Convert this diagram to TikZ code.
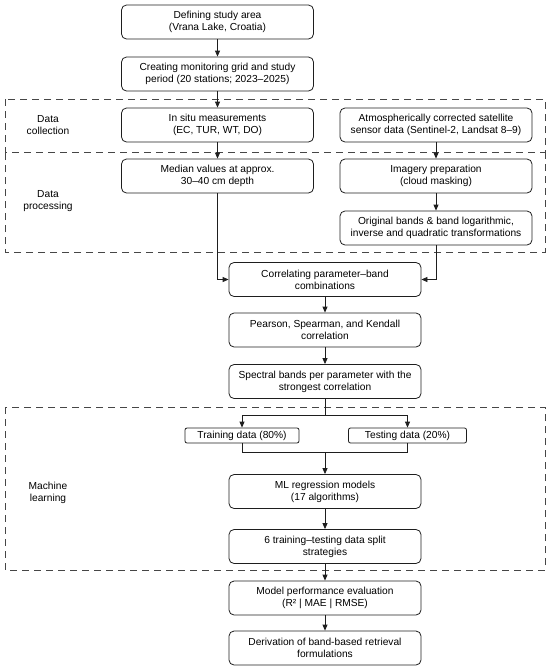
\documentclass[tikz,border=0pt]{standalone}
\usepackage{fontspec}
\setmainfont{Liberation Sans}
\definecolor{flowline}{RGB}{30,30,30}
\definecolor{groupline}{RGB}{70,70,70}
\usetikzlibrary{arrows.meta,positioning}

\begin{document}
\begin{tikzpicture}[x=1pt,y=-1pt,font=\fontsize{10.2}{12}\selectfont,
  box/.style={draw=flowline,line width=0.8pt,rounded corners=5pt,minimum width=192pt,minimum height=34pt,align=center,inner sep=1pt},
  smallbox/.style={draw=flowline,line width=0.8pt,rounded corners=2pt,minimum height=15pt,inner sep=1pt},
  arr/.style={-{Triangle[length=6pt,width=5pt]},line width=0.8pt,flowline},
  link/.style={line width=0.8pt,flowline},
  group/.style={draw=groupline,line width=0.9pt,dash pattern=on 7pt off 5pt},
  grouplabel/.style={align=center}]
  \useasboundingbox (0,0) rectangle (550,670);
  \draw[group] (5,99) rectangle (545,152);
  \draw[group] (545,152) -- (545,252) -- (5,252) -- (5,152);
  \draw[group] (5,407) rectangle (545,570);
  \node[grouplabel] (lcollect) at (48,125) {Data\\collection};
  \node[grouplabel] (lprocess) at (48,201.5) {Data\\processing};
  \node[grouplabel] (llearn) at (48,493) {Machine\\learning};

  \node[box] (area) at (217.5,22) {Defining study area\\(Vrana Lake, Croatia)};
  \node[box] (grid) at (217.5,74) {Creating monitoring grid and study\\period (20 stations; 2023–2025)};
  \node[box] (insitu) at (217.5,125) {In situ measurements\\(EC, TUR, WT, DO)};
  \node[box] (sat) at (436,125) {Atmospherically corrected satellite\\sensor data (Sentinel-2, Landsat 8–9)};
  \node[box] (median) at (217.5,176) {Median values at approx.\\30–40 cm depth};
  \node[box] (imagery) at (436,176) {Imagery preparation\\(cloud masking)};
  \node[box] (bands) at (436,228) {Original bands \& band logarithmic,\\inverse and quadratic transformations};
  \node[box] (corr) at (325,279.5) {Correlating parameter–band\\combinations};
  \node[box] (pearson) at (325,330) {Pearson, Spearman, and Kendall\\correlation};
  \node[box] (spectral) at (325,381.5) {Spectral bands per parameter with the\\strongest correlation};
  \node[smallbox,minimum width=114pt] (train) at (242,435.5) {Training data (80\%)};
  \node[smallbox,minimum width=118pt] (test) at (407.5,435.5) {Testing data (20\%)};
  \node[box] (mlmodels) at (325,491.5) {ML regression models\\(17 algorithms)};
  \node[box] (splits) at (325,546.5) {6 training–testing data split\\strategies};
  \node[box] (eval) at (325,598) {Model performance evaluation\\(R² | MAE | RMSE)};
  \node[box] (formulas) at (325,648) {Derivation of band-based retrieval\\formulations};
  \coordinate (fork) at (325,415);
  \coordinate (join) at (325,452);

  \draw[arr] (area) -- (grid);
  \draw[arr] (grid) -- (insitu);
  \draw[arr] (insitu) -- (median);
  \draw[arr] (sat) -- (imagery);
  \draw[arr] (imagery) -- (bands);
  \draw[arr] (median.south) |- (corr.west);
  \draw[arr] (bands.south) |- (corr.east);
  \draw[arr] (corr) -- (pearson);
  \draw[arr] (pearson) -- (spectral);
  \draw[link] (spectral) -- (fork);
  \draw[arr] (fork) -| (train.north);
  \draw[arr] (fork) -| (test.north);
  \draw[link] (train.south) |- (join);
  \draw[link] (test.south) |- (join);
  \draw[arr] (join) -- (mlmodels);
  \draw[arr] (mlmodels) -- (splits);
  \draw[arr] (splits) -- (eval);
  \draw[arr] (eval) -- (formulas);
\end{tikzpicture}
\end{document}
